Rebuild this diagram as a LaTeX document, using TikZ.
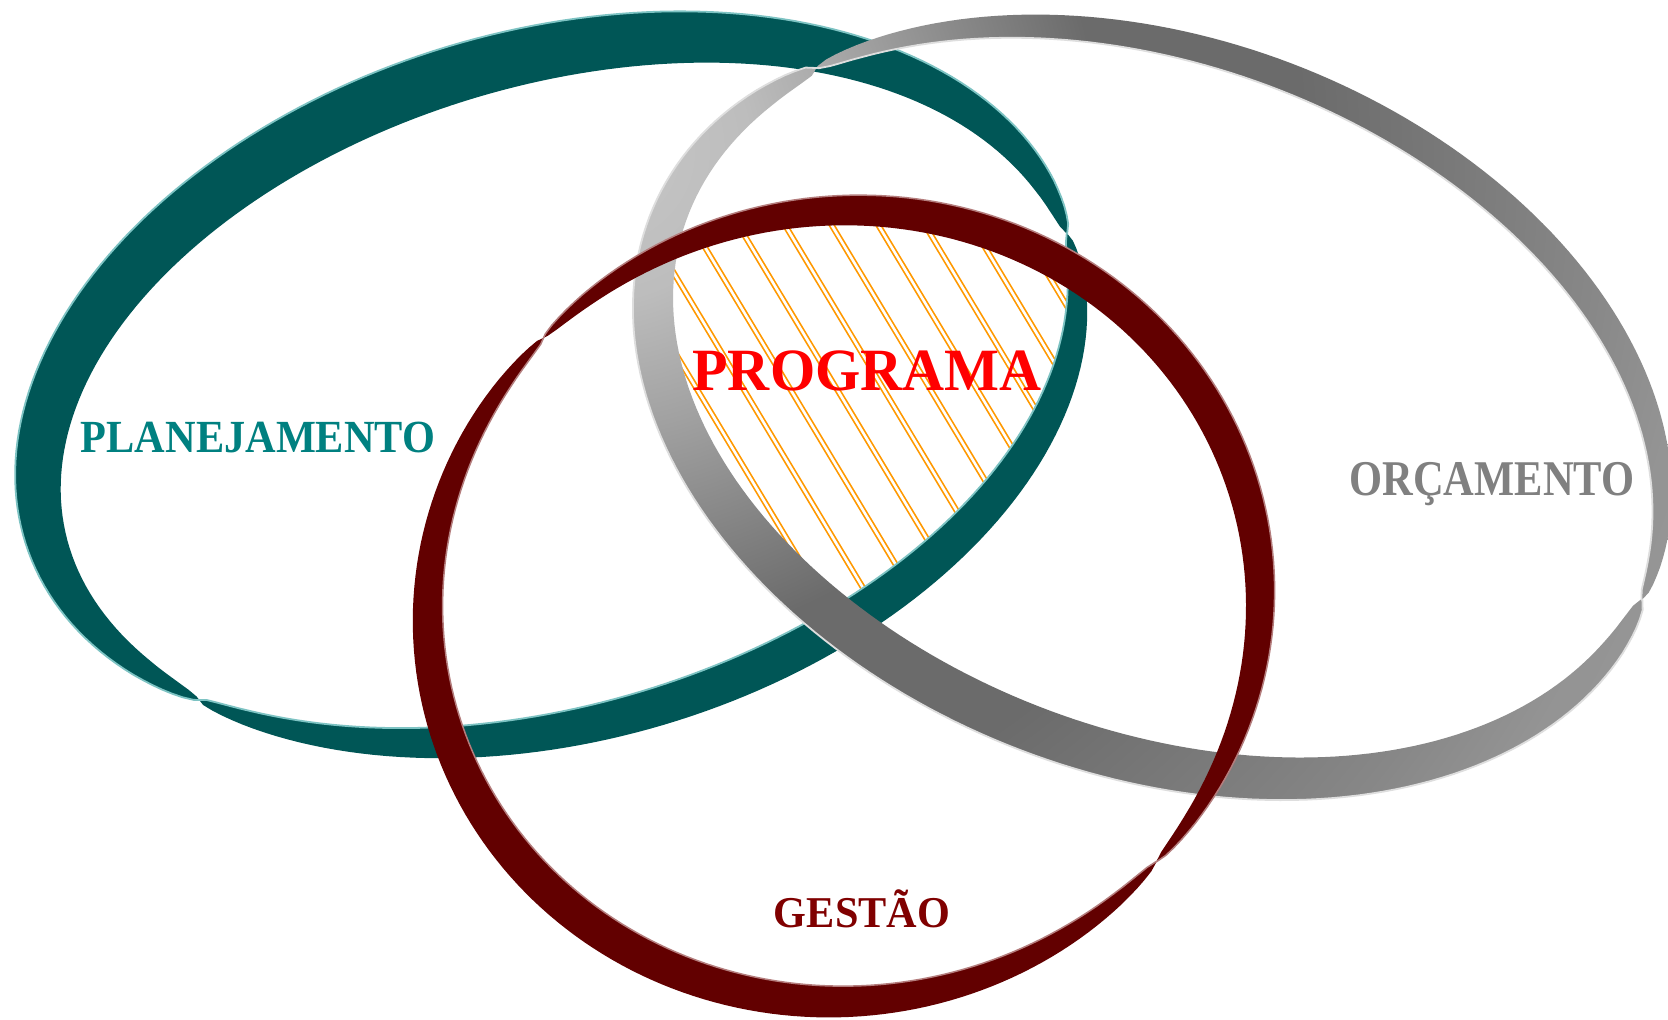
\documentclass[tikz,border=0pt]{standalone}
\usepackage{fontspec}
\setmainfont{Liberation Serif}
\usepackage{graphicx}
\usepackage{xcolor}

\definecolor{tealband}{RGB}{0,86,86}
\definecolor{tealrim}{RGB}{125,195,195}
\definecolor{tealtext}{RGB}{0,128,128}
\definecolor{redband}{RGB}{98,0,0}
\definecolor{redrim}{RGB}{180,125,125}
\definecolor{redtext}{RGB}{128,0,0}
\definecolor{grayrim}{RGB}{222,222,222}
\definecolor{graytext}{RGB}{128,128,128}
\definecolor{hatchorange}{RGB}{255,153,0}

% light on the upper left, dark round the middle, lighter again far out
% (25bp is the radius of the shaded circle)
\pgfdeclareradialshading{grayband}{\pgfpoint{0bp}{0bp}}{color(0bp)=(black!22); color(2.9bp)=(black!26); color(5.4bp)=(black!37); color(9.6bp)=(black!58); color(13.5bp)=(black!58); color(19.2bp)=(black!47); color(21.2bp)=(black!42); color(25bp)=(black!40); color(50bp)=(black!40)}

\tikzset{
  % half width of a twisted band: zero at the two twists \ka and \kb
  declare function={
    twist(\q,\ka,\kb,\wa,\wb,\pe)=(\q<\kb)*(\wa/2)*(abs(sin((\q-\ka)/(\kb-\ka)*180))+0.0001)^\pe
      -(\q>=\kb)*(\wb/2)*(abs(sin((\q-\kb)/(\ka+360-\kb)*180))+0.0001)^\pe;
    hplan(\q)=twist(\q,-0.7,144.4,40,58,0.5);
    horc(\q)=twist(\q,2,213.4,48,30,0.4);
    hgest(\q)=twist(\q,51.4,234,36,35,0.5);
  },
  ringlabel/.style={font=\bfseries\fontsize{#1}{#1}\selectfont, anchor=base, inner sep=0pt},
  hatchpair/.style={draw=hatchorange, line width=1.7pt, double=white, double distance=2.6pt},
}

\begin{document}
\begin{tikzpicture}[x=1pt, y=-1pt, samples=241]
  \useasboundingbox (0,0) rectangle (1668,1020);
  \fill[white] (0,0) rectangle (1668,1020);

  % hatched core shared by the three rings
  \begin{scope}
    \clip[shift={(557.5,390)}, rotate=16.65] (0,0) ellipse (533 and 332);
    \clip[shift={(1157.5,402.5)}, rotate=-20.8] (0,0) ellipse (523 and 350);
    \clip[shift={(844,606)}, rotate=10.6] (0,0) ellipse (417 and 395);
    \foreach \k in {-5,...,8}
      \draw[hatchpair] ({(477+40*\k)*0.857+500*0.515}, {-(477+40*\k)*0.515+500*0.857})
        -- ({(477+40*\k)*0.857+1100*0.515}, {-(477+40*\k)*0.515+1100*0.857});
  \end{scope}

  % planejamento ring
  \begin{scope}[shift={(557.5,390)}, rotate=16.65]
    \fill[tealband, even odd rule]
      plot[domain=-0.7:359.3] ({(533+hplan(\x))*cos(\x)}, {(332+hplan(\x))*sin(\x)}) -- cycle
      plot[domain=-0.7:359.3] ({(533-hplan(\x))*cos(\x)}, {(332-hplan(\x))*sin(\x)}) -- cycle;
    \draw[tealrim, line width=1.8pt]
      plot[domain=-0.7:359.3] ({(533-hplan(\x))*cos(\x)}, {(332-hplan(\x))*sin(\x)}) -- cycle;
  \end{scope}

  % orcamento ring
  \begin{scope}[even odd rule]
    \clip[shift={(1157.5,402.5)}, rotate=-20.8]
      plot[domain=2:362] ({(523+horc(\x))*cos(\x)}, {(350+horc(\x))*sin(\x)}) -- cycle
      plot[domain=2:362] ({(523-horc(\x))*cos(\x)}, {(350-horc(\x))*sin(\x)}) -- cycle;
    \shade[shading=grayband] (600,150) circle (1300);
  \end{scope}
  \draw[grayrim, line width=1.8pt, shift={(1157.5,402.5)}, rotate=-20.8]
    plot[domain=2:362] ({(523+horc(\x))*cos(\x)}, {(350+horc(\x))*sin(\x)}) -- cycle;

  % gestao ring
  \begin{scope}[shift={(844,606)}, rotate=10.6]
    \fill[redband, even odd rule]
      plot[domain=51.4:411.4] ({(417+hgest(\x))*cos(\x)}, {(395+hgest(\x))*sin(\x)}) -- cycle
      plot[domain=51.4:411.4] ({(417-hgest(\x))*cos(\x)}, {(395-hgest(\x))*sin(\x)}) -- cycle;
    \draw[redrim, line width=1.5pt]
      plot[domain=51.4:411.4] ({(417-hgest(\x))*cos(\x)}, {(395-hgest(\x))*sin(\x)}) -- cycle;
  \end{scope}

  % labels
  \node[ringlabel=46, text=tealtext] (plan) at (258,452) {\scalebox{0.92}[1]{PLANEJAMENTO}};
  \node[ringlabel=50, text=graytext] (orc) at (1492,495) {\scalebox{0.85}[1]{ORÇAMENTO}};
  \node[ringlabel=44, text=redtext] (gest) at (862,927) {\scalebox{0.96}[1]{GESTÃO}};
  \node[ringlabel=60, text=red] (prog) at (867,390) {\scalebox{0.97}[1]{PROGRAMA}};
\end{tikzpicture}
\end{document}
